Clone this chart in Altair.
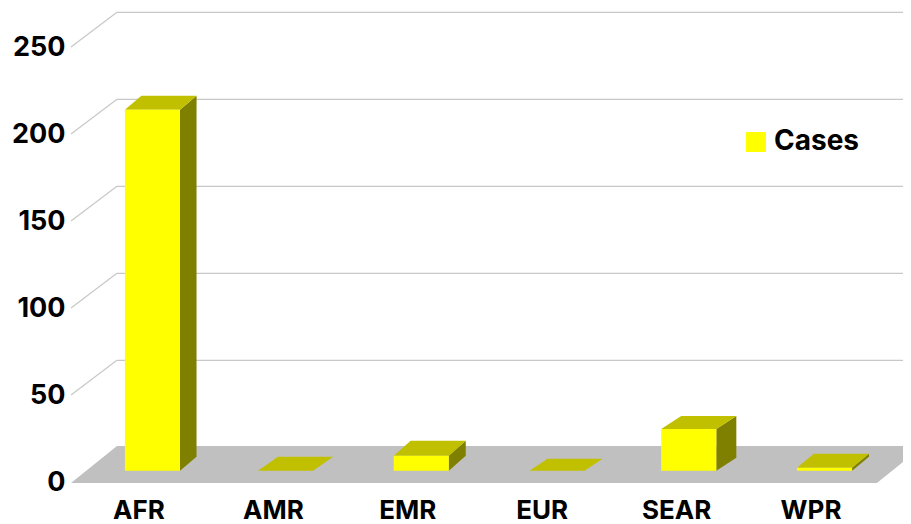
import altair as alt
import pandas as pd

categories = ["AFR", "AMR", "EMR", "EUR", "SEAR", "WPR"]
values = [207.5, 0, 8.6, 0, 24, 1.7]
ticks = [0, 50, 100, 150, 200, 250]
series_name = "Cases"

# oblique projection, in data units
bar_pos = [0, 0.99, 2, 3.01, 3.99, 5]
bar_half = 0.205
bar_base = 7.07
bar_dx = [0.123, 0.149, 0.126, 0.134, 0.149, 0.126]
bar_dy = [8.0, 8.0, 8.6, 6.9, 7.5, 8.0]
floor_left, floor_right = -0.606, 5.39
floor_dx, floor_dy = 0.342, 21.3
grid_front, grid_back_offset = 0.6, 20.5
x_max = 5.584

FONT = "Inter"
x_scale = alt.Scale(domain=[floor_left, x_max], nice=False, zero=False)
y_scale = alt.Scale(domain=[0, 273], nice=False, zero=False)


def X(field="x", **kw):
    return alt.X(field, type="quantitative", scale=x_scale, title=None, stack=None, **kw)


def Y(field="y", **kw):
    return alt.Y(field, type="quantitative", scale=y_scale, title=None, stack=None, **kw)


# wall grid
back = pd.DataFrame({"v": ticks[1:]})
back["y"] = back.v + grid_back_offset
back["x"] = floor_left + floor_dx
back["x2"] = x_max
grid_back = alt.Chart(back).mark_rule(color="#c8c8c8", strokeWidth=1.2).encode(
    x=X(), x2="x2", y=Y())

diag = pd.DataFrame(
    [{"v": v, "x": floor_left, "y": v + grid_front} for v in ticks[1:]]
    + [{"v": v, "x": floor_left + floor_dx, "y": v + grid_back_offset} for v in ticks[1:]])
grid_diag = alt.Chart(diag).mark_line(color="#c8c8c8", strokeWidth=1.2).encode(
    x=X(), y=Y(), detail="v:N")

# floor
floor = pd.DataFrame({
    "y": [0, floor_dy],
    "x": [floor_left, floor_left + floor_dx],
    "x2": [floor_right, floor_right + floor_dx],
})
floor_mark = alt.Chart(floor).mark_area(orient="horizontal", color="#c0c0c0", clip=True).encode(
    y=Y(), x=X(), x2="x2")

# bar faces
sides, tops, fronts = [], [], []
for c, p, v, dx, dy in zip(categories, bar_pos, values, bar_dx, bar_dy):
    l, r = p - bar_half, p + bar_half
    top = bar_base + v
    sides += [{"c": c, "x": r, "y": bar_base, "y2": top},
              {"c": c, "x": r + dx, "y": bar_base + dy, "y2": top + dy}]
    tops += [{"c": c, "y": top, "x": l, "x2": r},
             {"c": c, "y": top + dy, "x": l + dx, "x2": r + dx}]
    fronts.append({"c": c, "x": l, "x2": r, "y": bar_base, "y2": top, "series": series_name})

side_mark = alt.Chart(pd.DataFrame(sides)).mark_area(color="#808000").encode(
    x=X(), y=Y(), y2="y2", detail="c:N")
top_mark = alt.Chart(pd.DataFrame(tops)).mark_area(orient="horizontal", color="#c0c000").encode(
    y=Y(), x=X(), x2="x2", detail="c:N")
front_mark = alt.Chart(pd.DataFrame(fronts)).mark_rect().encode(
    x=X(), x2="x2", y=Y(), y2="y2",
    color=alt.Color("series:N",
                    scale=alt.Scale(domain=[series_name], range=["#ffff00"]),
                    legend=alt.Legend(title=None, orient="none", legendX=671, legendY=120,
                                      symbolType="square", symbolSize=400, symbolStrokeWidth=0,
                                      labelFont=FONT, labelFontSize=28, labelFontWeight="bold",
                                      labelColor="black", labelLimit=200)))

# axes (invisible carrier layer, drawn first so its axes are kept)
axis_layer = alt.Chart(pd.DataFrame({"x": [0], "y": [0]})).mark_point(opacity=0).encode(
    x=alt.X("x:Q", scale=x_scale, title=None,
            axis=alt.Axis(values=list(range(len(categories))), domain=False, ticks=False, grid=False,
                          labelExpr="%s[round(datum.value)]" % categories,
                          labelFont=FONT, labelFontSize=26, labelFontWeight="bold", labelColor="black",
                          labelOffset=-14, labelPadding=14, labelFlush=False, labelOverlap=False)),
    y=alt.Y("y:Q", scale=y_scale, title=None,
            axis=alt.Axis(values=ticks, domain=False, ticks=False, grid=False,
                          labelFont=FONT, labelFontSize=27, labelFontWeight="bold", labelColor="black",
                          labelOffset=-1, labelPadding=6, labelFlush=False, labelOverlap=False)),
)

chart = alt.layer(
    axis_layer, grid_back, grid_diag, floor_mark, side_mark, top_mark, front_mark
).properties(
    width=832, height=475,
    padding={"left": 63, "top": 0, "right": 0, "bottom": 41},
    autosize=alt.AutoSizeParams(type="none"),
).configure_view(stroke=None)

chart.save("out.html", embed_options={"renderer": "svg", "actions": False})
